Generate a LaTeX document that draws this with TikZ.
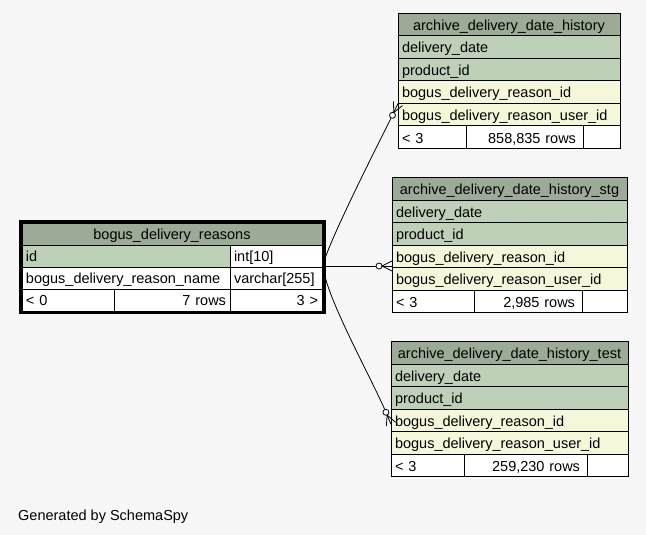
\documentclass[tikz,border=0pt]{standalone}
\usepackage{fontspec}
\setmainfont{Liberation Sans}
\usetikzlibrary{positioning,calc}
\definecolor{pagegray}{HTML}{F7F7F7}
\definecolor{headgreen}{HTML}{9BAB96}
\definecolor{keygreen}{HTML}{BED1B8}
\definecolor{fkyellow}{HTML}{F4F7DA}

\begin{document}
\begin{tikzpicture}[x=1pt,y=-1pt,
    font=\fontsize{14.5}{16}\selectfont,
    cell/.style={rectangle,draw,line width=1pt,fill=white,outer sep=0pt,
                 inner xsep=4pt,inner ysep=0pt,minimum height=22.5pt,
                 text height=13pt,text depth=1.5pt,align=left,anchor=north west},
    hdr/.style={cell,fill=headgreen,align=center},
    key/.style={cell,fill=keygreen},
    fkey/.style={cell,fill=fkyellow},
    num/.style={cell,align=right},
    rowcount/.style={num,inner xsep=7pt},
    rel/.style={line width=0.8pt},
    dot/.style={circle,draw,fill=white,line width=0.8pt,minimum size=6pt,inner sep=0pt}
]
    \fill[pagegray] (0,0) rectangle (646,535);

    % bogus_delivery_reasons
    \node[hdr,text width=292pt,minimum height=22pt] (bh) at (22,223) {bogus\_delivery\_reasons};
    \node[key,text width=200pt,minimum height=22pt,below=0pt of bh.south west,anchor=north west] (bid) {id};
    \node[cell,text width=84pt,minimum height=22pt,right=0pt of bid.north east,anchor=north west] (bint) {int[10]};
    \node[cell,text width=200pt,minimum height=22pt,below=0pt of bid.south west,anchor=north west] (bname) {bogus\_delivery\_reason\_name};
    \node[cell,text width=84pt,minimum height=22pt,right=0pt of bname.north east,anchor=north west] (btype) {varchar[255]};
    \node[cell,text width=84pt,minimum height=22pt,below=0pt of bname.south west,anchor=north west] (bf1) {< 0};
    \node[num,text width=108pt,minimum height=22pt,right=0pt of bf1.north east,anchor=north west] (bf2) {7 rows};
    \node[num,text width=84pt,minimum height=22pt,right=0pt of bf2.north east,anchor=north west] (bf3) {3 >};
    \draw[line width=3pt] ([shift={(-1.5,-1.5)}]bh.north west) rectangle ([shift={(2.5,1.5)}]bf3.south east);

    % archive_delivery_date_history
    \node[hdr,text width=214pt] (t1h) at (398,13.5) {archive\_delivery\_date\_history};
    \node[key,text width=214pt,below=0pt of t1h.south west,anchor=north west] (t1dd) {delivery\_date};
    \node[key,text width=214pt,below=0pt of t1dd.south west,anchor=north west] (t1pid) {product\_id};
    \node[fkey,text width=214pt,below=0pt of t1pid.south west,anchor=north west] (t1rid) {bogus\_delivery\_reason\_id};
    \node[fkey,text width=214pt,below=0pt of t1rid.south west,anchor=north west] (t1uid) {bogus\_delivery\_reason\_user\_id};
    \node[cell,text width=60pt,below=0pt of t1uid.south west,anchor=north west] (t1f1) {< 3};
    \node[rowcount,text width=103pt,right=0pt of t1f1.north east,anchor=north west] (t1f2) {858,835 rows};
    \node[cell,text width=29pt,right=0pt of t1f2.north east,anchor=north west] (t1f3) {};

    % archive_delivery_date_history_stg
    \node[hdr,text width=227pt] (t2h) at (392,177.5) {archive\_delivery\_date\_history\_stg};
    \node[key,text width=227pt,below=0pt of t2h.south west,anchor=north west] (t2dd) {delivery\_date};
    \node[key,text width=227pt,below=0pt of t2dd.south west,anchor=north west] (t2pid) {product\_id};
    \node[fkey,text width=227pt,below=0pt of t2pid.south west,anchor=north west] (t2rid) {bogus\_delivery\_reason\_id};
    \node[fkey,text width=227pt,below=0pt of t2rid.south west,anchor=north west] (t2uid) {bogus\_delivery\_reason\_user\_id};
    \node[cell,text width=74pt,below=0pt of t2uid.south west,anchor=north west] (t2f1) {< 3};
    \node[rowcount,text width=94pt,right=0pt of t2f1.north east,anchor=north west] (t2f2) {2,985 rows};
    \node[cell,text width=37pt,right=0pt of t2f2.north east,anchor=north west] (t2f3) {};

    % archive_delivery_date_history_test
    \node[hdr,text width=229pt] (t3h) at (391,341.5) {archive\_delivery\_date\_history\_test};
    \node[key,text width=229pt,below=0pt of t3h.south west,anchor=north west] (t3dd) {delivery\_date};
    \node[key,text width=229pt,below=0pt of t3dd.south west,anchor=north west] (t3pid) {product\_id};
    \node[fkey,text width=229pt,below=0pt of t3pid.south west,anchor=north west] (t3rid) {bogus\_delivery\_reason\_id};
    \node[fkey,text width=229pt,below=0pt of t3rid.south west,anchor=north west] (t3uid) {bogus\_delivery\_reason\_user\_id};
    \node[cell,text width=65pt,below=0pt of t3uid.south west,anchor=north west] (t3f1) {< 3};
    \node[rowcount,text width=109pt,right=0pt of t3f1.north east,anchor=north west] (t3f2) {259,230 rows};
    \node[cell,text width=33pt,right=0pt of t3f2.north east,anchor=north west] (t3f3) {};

    % relationships (zero-or-many ends)
    \coordinate (e1tip) at (t1rid.south west);
    \coordinate (e1base) at ($(e1tip)+(-4.25,9.06)$);
    \node[dot] (d1) at ($(e1tip)+(-5.5,11.8)$) {};
    \draw[rel] ([shift={(2,-5)}]bint.south east) .. controls +(6,-22) and +(-22.5,44.7) .. (d1);
    \draw[rel] (e1base) -- (e1tip);
    \draw[rel] (e1base) -- ($(e1tip)+(4.5,2.1)$);
    \draw[rel] (e1base) -- ($(e1tip)+(-4.5,-2.1)$);

    \coordinate (e2tip) at ([yshift=1.5pt]t2rid.south west);
    \coordinate (e2base) at ($(e2tip)+(-10,0)$);
    \node[dot] (d2) at ($(e2tip)+(-13,0)$) {};
    \draw[rel] ([shift={(2,-1)}]bint.south east) -- (d2);
    \draw[rel] (e2base) -- (e2tip);
    \draw[rel] (e2base) -- ($(e2tip)+(0,5)$);
    \draw[rel] (e2base) -- ($(e2tip)+(0,-5)$);

    \coordinate (e3tip) at ([yshift=-4pt]t3rid.west);
    \coordinate (e3base) at ($(e3tip)+(-3.9,-9.2)$);
    \node[dot] (d3) at ($(e3tip)+(-5.07,-11.96)$) {};
    \draw[rel] ([shift={(2,4)}]bint.south east) .. controls +(4,29) and +(-13.9,-32.3) .. (d3);
    \draw[rel] (e3base) -- (e3tip);
    \draw[rel] (e3base) -- ($(e3tip)+(4.6,-1.95)$);
    \draw[rel] (e3base) -- ($(e3tip)+(-4.6,1.95)$);

    \node[anchor=base west,inner sep=0pt] (gen) at (18,520) {Generated by SchemaSpy};
\end{tikzpicture}
\end{document}
